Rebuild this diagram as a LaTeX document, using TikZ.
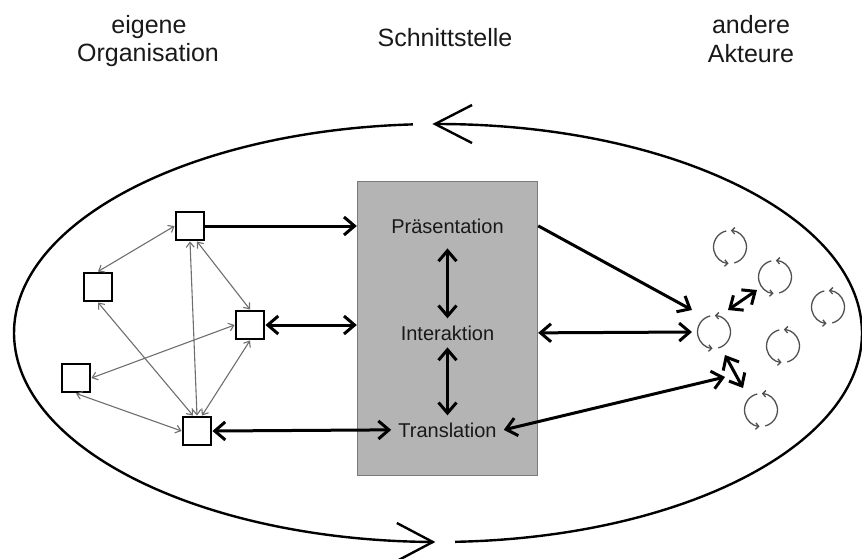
\documentclass[tikz,border=0pt]{standalone}
\usepackage{fontspec}
\setmainfont{Liberation Sans}
\usetikzlibrary{arrows.meta,calc}
\definecolor{panelgray}{HTML}{B4B4B4}
\definecolor{paneledge}{HTML}{7A7A7A}
\definecolor{webgray}{HTML}{6E6E6E}
\definecolor{cyclegray}{HTML}{505050}
\begin{document}
\begin{tikzpicture}[x=1pt,y=-1pt,
  heading/.style={font=\fontsize{25}{28}\selectfont,anchor=base,inner sep=0pt,text=black!90},
  layer/.style={font=\fontsize{20}{24}\selectfont,anchor=base,inner sep=7pt,text=black!90},
  unit/.style={draw=black,fill=white,line width=2.4pt,minimum size=28.5pt,inner sep=0pt},
  panel/.style={draw=paneledge,fill=panelgray,line width=1.4pt,minimum width=180pt,minimum height=294pt,inner sep=0pt},
  rim/.style={line width=2.4pt,line join=miter},
  bigtip/.tip={Straight Barb[length=10.5pt,width=18pt]},
  smalltip/.tip={Straight Barb[length=5pt,width=8pt]},
  cyctip/.tip={Straight Barb[length=3pt,width=6.5pt]},
  link/.style={line width=3pt,-bigtip},
  duplex/.style={line width=3pt,bigtip-bigtip},
  web/.style={draw=webgray,line width=1.1pt,smalltip-smalltip},
  cyc/.style={draw=cyclegray,line width=1.3pt,-cyctip},
  cycleicon/.pic={
    \draw[cyc] (-103:16.5) arc[start angle=-103,end angle=-265,radius=16.5];
    \draw[cyc] (-285:16.5) arc[start angle=-285,end angle=-447,radius=16.5];
  }
]
\useasboundingbox (0,0) rectangle (862,558);

% headings
\node[heading] (h1a) at (149,33) {eigene};
\node[heading] (h1b) at (148,61) {Organisation};
\node[heading] (h2)  at (445,46) {Schnittstelle};
\node[heading] (h3a) at (751,33) {andere};
\node[heading] (h3b) at (751,62) {Akteure};

% outer cycle (ellipse with two open arrowheads)
\coordinate (e) at (438,333);
\draw[rim] (e) ++(-272.3:424 and 209)
  arc[start angle=-272.3,end angle=-450.4,x radius=424,y radius=209] coordinate (toptip);
\draw[rim] (e) ++(-93.4:424 and 209)
  arc[start angle=-93.4,end angle=-269.3,x radius=424,y radius=209] coordinate (bottip);
\draw[rim] ($(toptip)+(37,-19)$) -- (toptip) -- ($(toptip)+(37,19)$);
\draw[rim] ($(bottip)+(-36,-19)$) -- (bottip) -- ($(bottip)+(-36,19)$);

% interface panel and its layers
\node[panel] (box) at (447.5,328.5) {};
\node[layer] (pres)  at (447.5,233) {Präsentation};
\node[layer] (inter) at (447.5,340) {Interaktion};
\node[layer] (trans) at (447.5,437) {Translation};
\draw[duplex,shorten <=8pt] (pres.south) -- (inter.north);
\draw[duplex] (inter.south) -- (trans.north);

% own organisation units
\node[unit] (s1) at (190,226) {};
\node[unit] (s2) at (98,287) {};
\node[unit] (s3) at (250,325) {};
\node[unit] (s4) at (76,378) {};
\node[unit] (s5) at (197,431) {};

\draw[web] (s1.west) -- (s2.north);
\draw[web] ($(s1.south)+(7,0)$) -- (s3.north);
\draw[web] (s1.south) -- (s5.north);
\draw[web] (s2.south) -- ($(s5.north)+(-4,0)$);
\draw[web] (s3.west) -- (s4.east);
\draw[web] (s3.south) -- ($(s5.north)+(5,0)$);
\draw[web] (s4.south) -- (s5.west);

% links into the panel
\draw[link] (s1.east) -- (s1 -| box.west);
\draw[duplex] (s3.east) -- (s3 -| box.west);
\draw[duplex] (s5.east) -- (trans.west);

% other actors
\coordinate (ca) at (730,247);
\coordinate (cb) at (775,277);
\coordinate (cc) at (828,307);
\coordinate (c1) at (714,332);
\coordinate (cd) at (783,346);
\coordinate (ce) at (761,410);
\foreach \c in {ca,cb,cc,c1,cd,ce} \pic at (\c) {cycleicon};

% links from the panel to the actors
\draw[link] (box.east |- pres.center) -- ($(c1)+(-22,-22)$);
\draw[duplex] (box.east |- inter.center) -- ($(c1)+(-22,0)$);
\draw[duplex] (trans.east) -- ($(c1)+(11,45)$);
\draw[duplex] ($(c1)+(14,-22)$) -- ($(cb)+(-18,13)$);
\draw[duplex] ($(c1)+(11,23)$) -- ($(ce)+(-18,-22)$);
\end{tikzpicture}
\end{document}
